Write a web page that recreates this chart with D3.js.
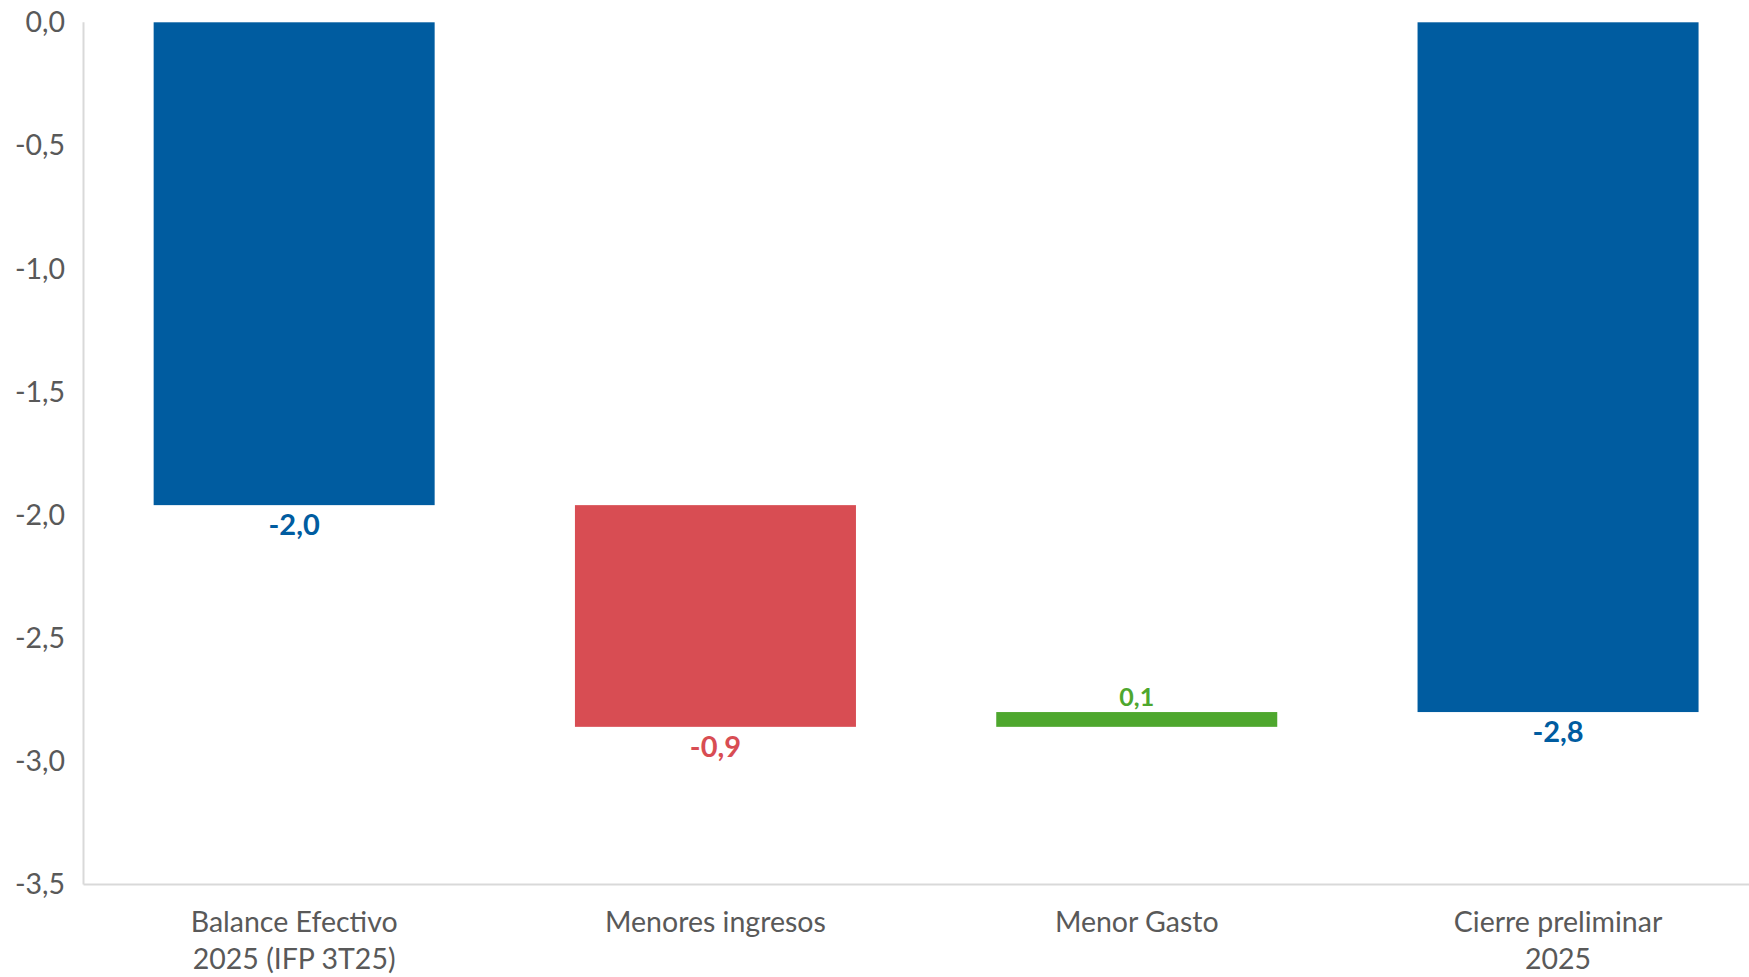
<!DOCTYPE html>
<html>
<head>
<meta charset="utf-8">
<script src="https://cdn.jsdelivr.net/npm/d3@7"></script>
<style>
  body { margin: 0; background: #fff; }
  svg { display: block; font-family: Lato, "Open Sans", sans-serif; }
</style>
</head>
<body>
<svg id="chart" width="1749" height="977"></svg>
<script>
const categories = [['Balance Efectivo', '2025 (IFP 3T25)'], ['Menores ingresos'], ['Menor Gasto'], ['Cierre preliminar', '2025']];
const kinds      = ['total', 'delta', 'delta', 'total'];
const values     = [-1.96, -0.90, 0.06, -2.80];
const yTicks     = [0, -0.5, -1, -1.5, -2, -2.5, -3, -3.5];

const BLUE = '#005ca0', RED = '#d84d53', GREEN = '#4ea72e';

// waterfall steps
let run = 0;
const bars = values.map((v, i) => {
    let y0, y1;
    if (kinds[i] === 'total') { y0 = 0; y1 = v; run = v; }
    else { y0 = run; y1 = run + v; run = y1; }
    const color = kinds[i] === 'total' ? BLUE : (v < 0 ? RED : GREEN);
    return { i, v, y0, y1, color };
});

const svg = d3.select('#chart');
const mLeft = 83.5, mTop = 22.3, mBottom = 884.5, step = 421.3;

const x = d3.scaleBand().domain(d3.range(categories.length))
    .range([mLeft, mLeft + step * categories.length]).paddingInner(0.333).paddingOuter(0.1665);
const y = d3.scaleLinear().domain([0, -3.5]).range([mTop, mBottom]);

const fmt = v => d3.format('.1f')(v).replace('.', ',').replace('−', '-');

// axes lines
svg.append('line').attr('x1', mLeft).attr('x2', mLeft).attr('y1', mTop).attr('y2', mBottom)
    .attr('stroke', '#d9d9d9').attr('stroke-width', 2);
svg.append('line').attr('x1', mLeft).attr('x2', 1749).attr('y1', mBottom).attr('y2', mBottom)
    .attr('stroke', '#d9d9d9').attr('stroke-width', 2);

svg.selectAll('.yt').data(yTicks).join('text')
    .attr('class', 'yt')
    .attr('x', 65).attr('y', d => y(d)).attr('dy', '0.35em')
    .attr('text-anchor', 'end').attr('font-size', 28.5).attr('fill', '#595959')
    .text(d => fmt(d));

svg.selectAll('.bar').data(bars).join('rect')
    .attr('class', 'bar')
    .attr('x', d => x(d.i)).attr('width', x.bandwidth())
    .attr('y', d => y(Math.max(d.y0, d.y1)))
    .attr('height', d => Math.abs(y(d.y1) - y(d.y0)))
    .attr('fill', d => d.color);

// value labels
svg.selectAll('.vl').data(bars).join('text')
    .attr('class', 'vl')
    .attr('x', d => x(d.i) + x.bandwidth() / 2)
    .attr('y', d => d.v > 0 ? y(Math.max(d.y0, d.y1)) - 15 : y(Math.min(d.y0, d.y1)) + 20)
    .attr('dy', '0.35em')
    .attr('text-anchor', 'middle')
    .attr('font-weight', 700)
    .attr('font-size', d => d.v > 0 ? 25 : 29)
    .attr('fill', d => d.color)
    .text(d => fmt(d.v));

// category labels
const cl = svg.selectAll('.cl').data(categories).join('text')
    .attr('class', 'cl')
    .attr('x', (d, i) => x(i) + x.bandwidth() / 2)
    .attr('y', 922)
    .attr('text-anchor', 'middle').attr('font-size', 28.5).attr('fill', '#595959');
cl.selectAll('tspan').data(d => d).join('tspan')
    .attr('x', function () { return d3.select(this.parentNode).attr('x'); })
    .attr('dy', (d, j) => j === 0 ? '0.35em' : 37)
    .text(d => d);
</script>
</body>
</html>
